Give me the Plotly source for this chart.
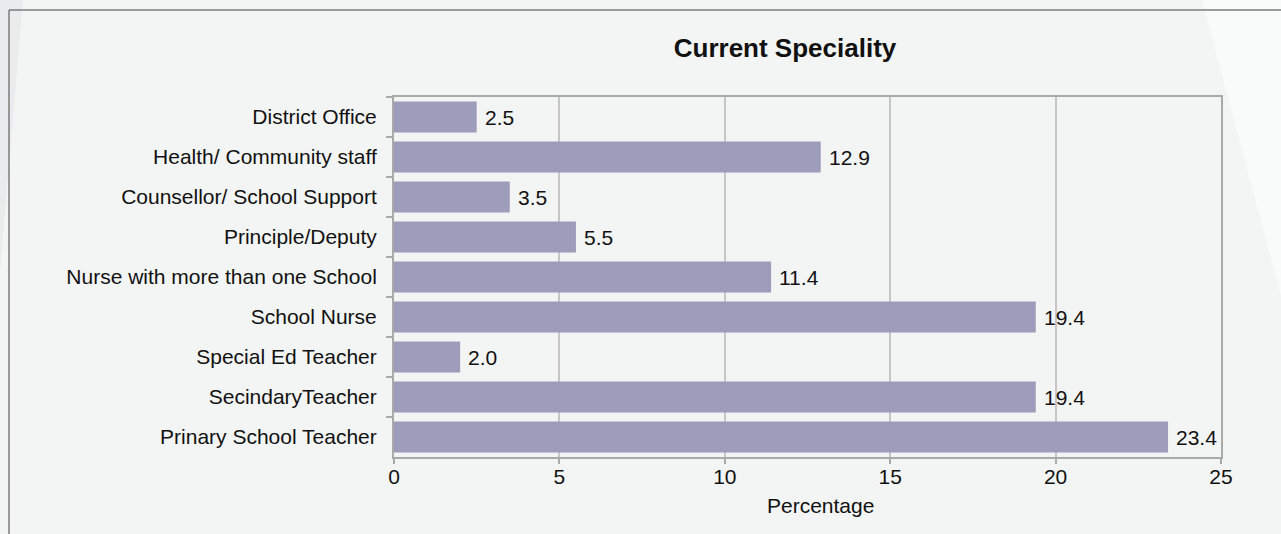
import plotly.graph_objects as go

# Survey responses: current speciality of respondents (percent)
categories = [
    "District Office",
    "Health/ Community staff",
    "Counsellor/ School Support",
    "Principle/Deputy",
    "Nurse with more than one School",
    "School Nurse",
    "Special Ed Teacher",
    "SecindaryTeacher",
    "Prinary School Teacher",
]
percentages = [2.5, 12.9, 3.5, 5.5, 11.4, 19.4, 2.0, 19.4, 23.4]
x_ticks = [0, 5, 10, 15, 20, 25]

W, H = 1281, 534
M_L, M_R, M_T, M_B = 394, 60, 97, 77
PLOT_W = W - M_L - M_R
PLOT_H = H - M_T - M_B

FONT = "Liberation Sans, Arial, Helvetica, sans-serif"
BAR_COLOR = "#9d9dbb"
BG = "#f3f5f4"
AXIS_COLOR = "#a9a9a9"
GRID_COLOR = "#c6c6c6"


def px_x(px):
    return (px - M_L) / PLOT_W


def px_y(py):
    return (H - M_B - py) / PLOT_H


fig = go.Figure(
    go.Bar(
        x=percentages,
        y=categories,
        orientation="h",
        marker=dict(color=BAR_COLOR, line=dict(width=0)),
        hoverinfo="x+y",
    )
)

# value labels just past the end of each bar
for cat, val in zip(categories, percentages):
    fig.add_annotation(
        x=val, y=cat, xref="x", yref="y",
        text=f"{val:.1f}", showarrow=False,
        xanchor="left", yanchor="middle", xshift=6,
        font=dict(family=FONT, size=21, color="#111111"),
    )

# x-axis caption
fig.add_annotation(
    x=px_x(820), y=px_y(505), xref="paper", yref="paper",
    text="Percentage", showarrow=False,
    xanchor="center", yanchor="middle",
    font=dict(family=FONT, size=21, color="#111111"),
)

# backdrop: faint diagonal panels and the outer frame
fig.add_shape(
    type="path", xref="paper", yref="paper", layer="below",
    path=f"M {px_x(1202)} {px_y(0)} L {px_x(1290)} {px_y(0)} L {px_x(1290)} {px_y(330)} Z",
    fillcolor="#f9fafa", line=dict(width=0),
)
fig.add_shape(
    type="path", xref="paper", yref="paper", layer="below",
    path=f"M {px_x(-5)} {px_y(0)} L {px_x(23)} {px_y(0)} L {px_x(-5)} {px_y(330)} Z",
    fillcolor="#e9ebed", line=dict(width=0),
)
fig.add_shape(
    type="line", xref="paper", yref="paper",
    x0=px_x(9), y0=px_y(10), x1=px_x(1290), y1=px_y(10),
    line=dict(color="#7b7b7b", width=1.5),
)
fig.add_shape(
    type="line", xref="paper", yref="paper",
    x0=px_x(9), y0=px_y(10), x1=px_x(9), y1=px_y(540),
    line=dict(color="#7b7b7b", width=1.5),
)

fig.update_layout(
    width=W, height=H,
    margin=dict(l=M_L, r=M_R, t=M_T, b=M_B, autoexpand=False),
    paper_bgcolor=BG, plot_bgcolor=BG,
    font=dict(family=FONT, size=21, color="#111111"),
    title=dict(
        text="<b>Current Speciality</b>",
        x=785 / W, xref="container", xanchor="center",
        y=1 - 48 / H, yref="container", yanchor="middle",
        font=dict(family=FONT, size=26, color="#111111"),
    ),
    bargap=0.225,
    showlegend=False,
)

fig.update_xaxes(
    range=[0, 25], tickvals=x_ticks,
    showgrid=True, gridcolor=GRID_COLOR, gridwidth=1.5,
    zeroline=False,
    showline=True, linecolor=AXIS_COLOR, linewidth=2, mirror=True,
    ticks="outside", ticklen=5, tickcolor=AXIS_COLOR, tickwidth=1.5,
    ticklabelstandoff=-5,
    tickfont=dict(family=FONT, size=21, color="#111111"),
    fixedrange=True,
)
fig.update_yaxes(
    autorange="reversed", categoryorder="array", categoryarray=categories,
    showgrid=False, zeroline=False,
    showline=True, linecolor=AXIS_COLOR, linewidth=2, mirror=True,
    ticks="outside", tickson="boundaries", ticklen=6,
    tickcolor=AXIS_COLOR, tickwidth=1.5,
    ticklabelstandoff=11,
    tickfont=dict(family=FONT, size=21, color="#111111"),
    fixedrange=True,
)

fig.write_html("out.html")
